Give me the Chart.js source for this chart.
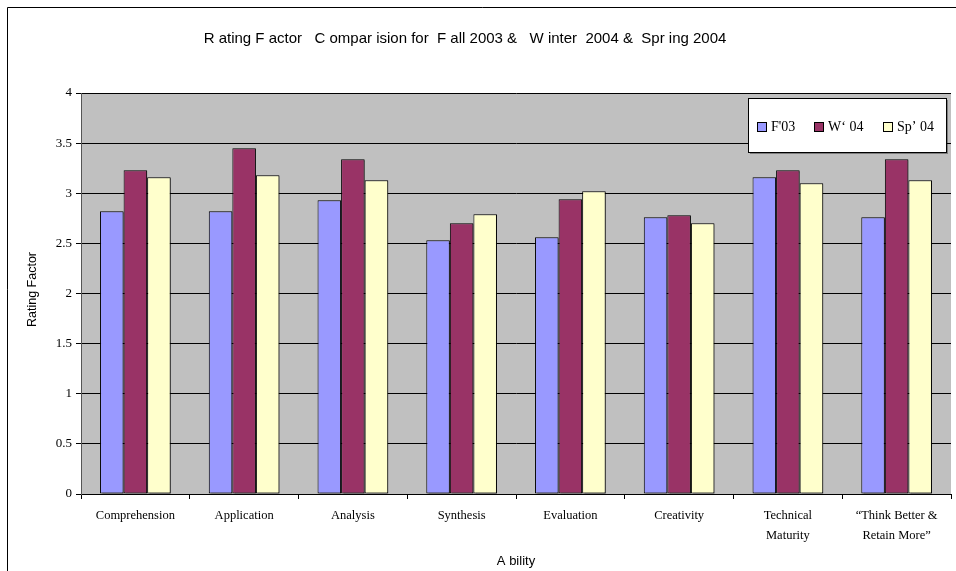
<!DOCTYPE html>
<html>
<head>
<meta charset="utf-8">
<script src="https://cdn.jsdelivr.net/npm/chart.js@4.4.1/dist/chart.umd.min.js"></script>
<style>
  html, body { margin: 0; padding: 0; background: #fff; }
  #wrap { width: 956px; height: 571px; position: relative; }
</style>
</head>
<body>
<div id="wrap"><canvas id="c" width="956" height="571"></canvas></div>
<script>
const categories = ["Comprehension", "Application", "Analysis", "Synthesis", "Evaluation", "Creativity", ["Technical", "Maturity"], ["\u201cThink Better &", "Retain More\u201d"]];
const seriesNames = ["F'03", "W\u2018 04", "Sp\u2019 04"];
const fall03 = [2.82, 2.82, 2.93, 2.53, 2.56, 2.76, 3.16, 2.76];
const winter04 = [3.23, 3.45, 3.34, 2.70, 2.94, 2.78, 3.23, 3.34];
const spring04 = [3.16, 3.18, 3.13, 2.79, 3.02, 2.70, 3.10, 3.13];
const seriesColors = ["#9999FF", "#993366", "#FFFFCC"];
const yTicks = { min: 0, max: 4, step: 0.5 };
const chartTitle = "R ating F actor   C ompar ision for  F all 2003 &   W inter  2004 &  Spr ing 2004";
const xTitle = "A bility";
const yTitle = "Rating Factor";

const decor = {
  id: 'decor',
  beforeDraw(chart) {
    const ctx = chart.ctx;
    ctx.save();
    ctx.fillStyle = '#fff';
    ctx.fillRect(0, 0, chart.width, chart.height);
    ctx.strokeStyle = '#000';
    ctx.lineWidth = 1;
    ctx.beginPath();
    ctx.moveTo(7.5, chart.height + 5);
    ctx.lineTo(7.5, 7.5);
    ctx.lineTo(chart.width + 5, 7.5);
    ctx.stroke();
    const a = chart.chartArea;
    ctx.fillStyle = '#C0C0C0';
    ctx.fillRect(a.left, a.top, a.right - a.left, a.bottom - a.top);
    ctx.restore();
  },
  beforeDatasetsDraw(chart) {
    const ctx = chart.ctx;
    ctx.save();
    ctx.shadowColor = 'rgba(0,0,0,0.35)';
    ctx.shadowOffsetX = 2;
    ctx.shadowOffsetY = 1;
    ctx.shadowBlur = 1;
  },
  afterDatasetsDraw(chart) {
    chart.ctx.restore();
  },
  afterDraw(chart) {
    const ctx = chart.ctx;
    const a = chart.chartArea;
    ctx.save();
    ctx.fillStyle = '#000';
    ctx.font = '15px "Liberation Sans"';
    ctx.textAlign = 'center';
    ctx.textBaseline = 'middle';
    ctx.fillText(chartTitle, 465, 39);
    ctx.font = '13px "Liberation Sans"';
    ctx.fillText(xTitle, (a.left + a.right) / 2, 561);
    ctx.save();
    ctx.translate(33, (a.top + a.bottom) / 2 - 4);
    ctx.rotate(-Math.PI / 2);
    ctx.font = '12.5px "Liberation Sans"';
    ctx.fillText(yTitle, 0, 0);
    ctx.restore();
    const lx = 748, ly = 98, lw = 198, lh = 54;
    ctx.fillStyle = 'rgba(0,0,0,0.35)';
    ctx.fillRect(lx + 2, ly + 2, lw, lh);
    ctx.fillStyle = '#fff';
    ctx.fillRect(lx, ly, lw, lh);
    ctx.strokeStyle = '#000';
    ctx.lineWidth = 1;
    ctx.strokeRect(lx + 0.5, ly + 0.5, lw, lh);
    ctx.font = '14px "Liberation Serif"';
    ctx.textAlign = 'left';
    ctx.textBaseline = 'middle';
    const xs = [757, 814, 883];
    chart.data.datasets.forEach((ds, i) => {
      ctx.fillStyle = ds.backgroundColor;
      ctx.fillRect(xs[i] + 0.5, 122.5, 9, 9);
      ctx.strokeStyle = '#000';
      ctx.strokeRect(xs[i] + 0.5, 122.5, 9, 9);
      ctx.fillStyle = '#000';
      ctx.fillText(ds.label, xs[i] + 14, 127.5);
    });
    ctx.restore();
  }
};

const datasets = [fall03, winter04, spring04].map((d, i) => ({
  label: seriesNames[i],
  data: d,
  backgroundColor: seriesColors[i],
  borderColor: '#000',
  borderWidth: 1,
  borderSkipped: false,
  categoryPercentage: 0.65,
  barPercentage: 1.0
}));

new Chart(document.getElementById('c'), {
  type: 'bar',
  data: { labels: categories, datasets },
  options: {
    responsive: false,
    animation: false,
    devicePixelRatio: 1,
    layout: { padding: { top: 93, right: 5, left: 0, bottom: 0 } },
    plugins: { legend: { display: false }, title: { display: false }, tooltip: { enabled: false } },
    scales: {
      x: {
        grid: { offset: true, drawOnChartArea: false, drawTicks: true, tickLength: 5, color: '#000' },
        border: { color: '#000', width: 1 },
        ticks: { color: '#000', font: { family: 'Liberation Serif', size: 12.5, lineHeight: 1.6 }, padding: 7, maxRotation: 0, autoSkip: false },
        afterFit(scale) { scale.height = 77; }
      },
      y: {
        min: yTicks.min, max: yTicks.max,
        grid: { color: '#000', drawTicks: true, tickLength: 5 },
        border: { color: '#555', width: 1 },
        ticks: { stepSize: yTicks.step, color: '#000', font: { family: 'Liberation Serif', size: 13 }, padding: 4,
          callback: (v) => String(Number(v)) },
        afterFit(scale) { scale.width = 81; }
      }
    }
  },
  plugins: [decor]
});
</script>
</body>
</html>
